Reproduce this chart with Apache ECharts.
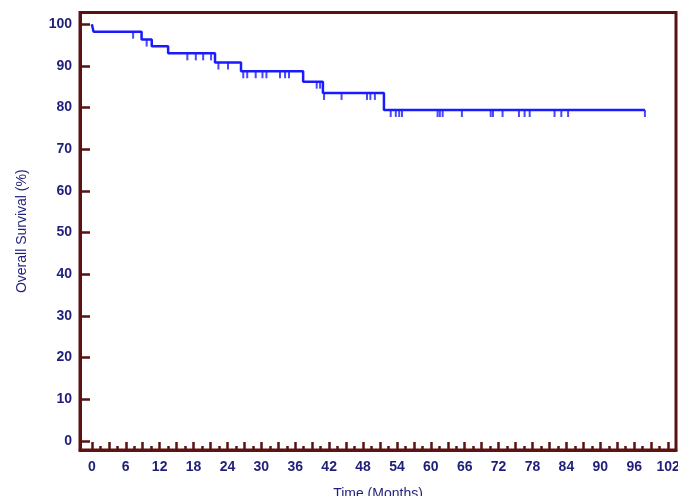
<!DOCTYPE html>
<html>
<head>
<meta charset="utf-8">
<script src="https://cdn.jsdelivr.net/npm/echarts@6/dist/echarts.min.js"></script>
<style>
html,body{margin:0;padding:0;background:#fff;}
#chart{width:678px;height:496px;}
</style>
</head>
<body>
<div id="chart"></div>
<script>
// Kaplan-Meier step data (months, % surviving after event)
var eventTimes = [0, 0.3, 8.8, 10.6, 13.5, 21.8, 26.4, 37.4, 40.9, 51.7, 97.9];
var survival   = [100, 98.2, 96.3, 94.7, 93.0, 90.8, 88.7, 86.2, 83.5, 79.4, 79.4];
// Censored observations (months)
var censorTimes = [7.3, 9.7, 16.9, 18.4, 19.7, 21.1, 22.4, 24.1,
  26.8, 27.5, 29.0, 30.2, 30.9, 33.3, 34.2, 34.9, 39.8, 40.4,
  41.1, 44.2, 48.7, 49.3, 50.1, 52.9, 53.8, 54.4, 54.9, 61.2, 61.6, 62.1,
  65.5, 70.6, 71.0, 72.7, 75.6, 76.6, 77.5, 81.9, 83.1, 84.3, 97.9];
var xLabels = [0,6,12,18,24,30,36,42,48,54,60,66,72,78,84,90,96,102];
var xMajorTicks = [0,3,6,9,12,15,18,21,24,27,30,33,36,39,42,45,48,51,54,57,60,63,66,69,72,75,78,81,84,87,90,93,96,99,102];
var xMinorTicks = [1.5,4.5,7.5,10.5,13.5,16.5,19.5,22.5,25.5,28.5,31.5,34.5,37.5,40.5,43.5,46.5,49.5,52.5,55.5,58.5,61.5,64.5,67.5,70.5,73.5,76.5,79.5,82.5,85.5,88.5,91.5,94.5,97.5,100.5];
var yTicks = [0,10,20,30,40,50,60,70,80,90,100];

function levelAt(t){
  var s = survival[0];
  for (var i=0;i<eventTimes.length;i++){ if (eventTimes[i] <= t) s = survival[i]; }
  return s;
}
var curve = eventTimes.map(function(t,i){return [t, survival[i]];});
var censors = censorTimes.map(function(t){return [t, levelAt(t)];});

var frame = '#5a1212';
var navy = '#1f1f7a';
var blue = '#1a1aff';
var XMIN = -2.1, XMAX = 103.4, YMIN = -2.2, YMAX = 102.8;
var gridPos = {left:80, right:2, top:12.5, bottom:46, outerBoundsMode:'none', containLabel:false};

var chart = echarts.init(document.getElementById('chart'), null, {renderer:'canvas'});
chart.setOption({
  backgroundColor:'#fff',
  animation:false,
  grid:[
    Object.assign({show:true, borderColor:frame, borderWidth:3, backgroundColor:'transparent'}, gridPos),
    Object.assign({show:false}, gridPos)
  ],
  xAxis:[{
    type:'value', gridIndex:0, min:XMIN, max:XMAX,
    name:'Time (Months)', nameLocation:'middle', nameGap:37,
    nameTextStyle:{color:navy, fontSize:14, fontFamily:'Liberation Sans, Arial'},
    axisLine:{show:true, onZero:false, lineStyle:{color:frame, width:3}},
    axisTick:{show:true, inside:true, length:8, customValues:xMajorTicks, lineStyle:{color:frame, width:2.5}},
    axisLabel:{show:true, customValues:xLabels, margin:10, color:navy, fontSize:14, fontWeight:'bold', fontFamily:'Liberation Sans, Arial'},
    splitLine:{show:false}
  },{
    type:'value', gridIndex:1, min:XMIN, max:XMAX,
    axisLine:{show:false, onZero:false},
    axisTick:{show:true, inside:true, length:4, customValues:xMinorTicks, lineStyle:{color:frame, width:2.5}},
    axisLabel:{show:false},
    splitLine:{show:false}
  }],
  yAxis:[{
    type:'value', gridIndex:0, min:YMIN, max:YMAX,
    name:'Overall Survival (%)', nameLocation:'middle', nameGap:51, nameRotate:90,
    nameTextStyle:{color:navy, fontSize:14, fontFamily:'Liberation Sans, Arial'},
    axisLine:{show:true, onZero:false, lineStyle:{color:frame, width:3}},
    axisTick:{show:true, inside:true, length:10, customValues:yTicks, lineStyle:{color:frame, width:2.5}},
    axisLabel:{show:true, customValues:yTicks, margin:8, color:navy, fontSize:14, fontWeight:'bold', fontFamily:'Liberation Sans, Arial'},
    splitLine:{show:false}
  },{
    type:'value', gridIndex:1, min:YMIN, max:YMAX, show:false
  }],
  series:[{
    type:'line', xAxisIndex:0, yAxisIndex:0, step:'end', data:curve,
    showSymbol:false, lineStyle:{color:blue, width:2.5}, z:3
  },{
    type:'scatter', xAxisIndex:0, yAxisIndex:0, data:censors,
    symbol:'rect', symbolSize:[2,7], symbolOffset:[0,3.5],
    itemStyle:{color:blue}, z:4
  }]
});
</script>
</body>
</html>
